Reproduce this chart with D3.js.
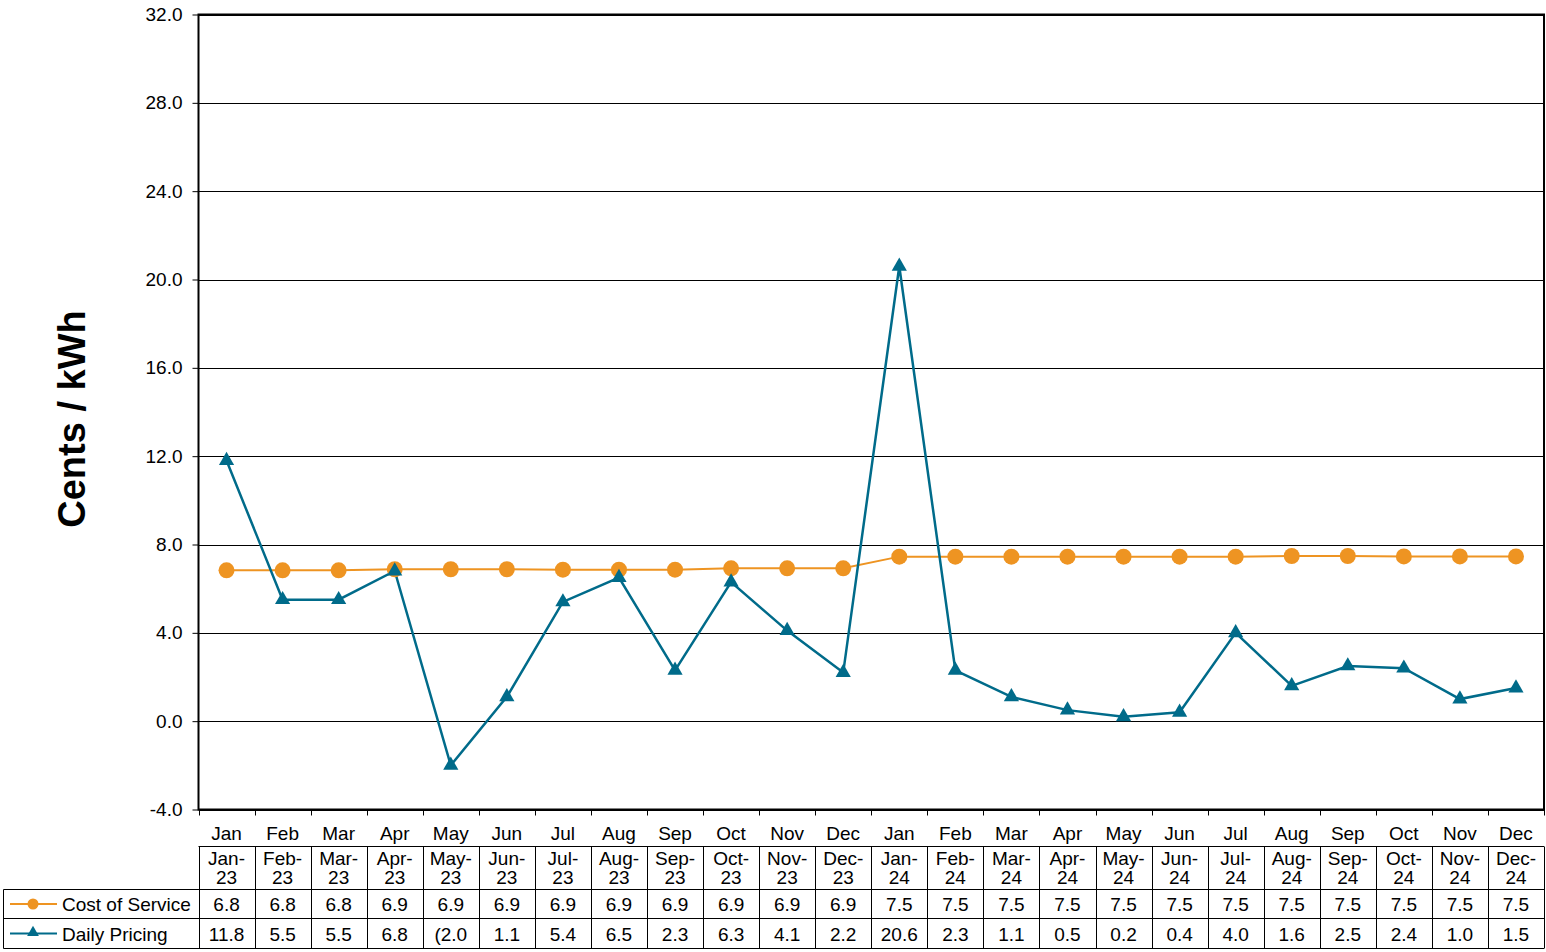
<!DOCTYPE html>
<html>
<head>
<meta charset="utf-8">
<script src="https://cdn.jsdelivr.net/npm/d3@7/dist/d3.min.js"></script>
<style>
  html, body { margin: 0; padding: 0; background: #fff; }
  svg { display: block; font-family: "Liberation Sans", Arial, sans-serif; }
</style>
</head>
<body>
<svg id="chart" width="1546" height="952"></svg>
<script>
// ---- Data ----
const monthLabels = ["Jan","Feb","Mar","Apr","May","Jun","Jul","Aug","Sep","Oct","Nov","Dec",
                     "Jan","Feb","Mar","Apr","May","Jun","Jul","Aug","Sep","Oct","Nov","Dec"];
const periodLabels = ["Jan-23","Feb-23","Mar-23","Apr-23","May-23","Jun-23","Jul-23","Aug-23","Sep-23","Oct-23","Nov-23","Dec-23",
                      "Jan-24","Feb-24","Mar-24","Apr-24","May-24","Jun-24","Jul-24","Aug-24","Sep-24","Oct-24","Nov-24","Dec-24"];
const costOfService = [6.83,6.83,6.83,6.88,6.88,6.88,6.86,6.86,6.86,6.92,6.92,6.92,
                       7.45,7.45,7.45,7.45,7.45,7.45,7.45,7.48,7.48,7.46,7.46,7.46];
const dailyPricing = [11.8,5.5,5.5,6.8,-2.0,1.1,5.4,6.5,2.3,6.3,4.1,2.2,
                      20.6,2.3,1.1,0.5,0.2,0.4,4.0,1.6,2.5,2.4,1.0,1.5];
const yTicks = [-4,0,4,8,12,16,20,24,28,32];
const seriesNames = ["Cost of Service","Daily Pricing"];
const seriesColors = ["#EE9422","#006B8A"];

// ---- Layout ----
const svg = d3.select("#chart");
const L = 198.5, R = 1544, T = 14.5, B = 809.5;
const x = d3.scaleBand().domain(d3.range(periodLabels.length)).range([L, R]).padding(0);
const y = d3.scaleLinear().domain([-4, 32]).range([B, T]);
const cx = i => x(i) + x.bandwidth() / 2;
const font = "'Liberation Sans', Arial, sans-serif";

// gridlines
svg.append("g").selectAll("line").data(yTicks).join("line")
  .attr("x1", L).attr("x2", R)
  .attr("y1", d => Math.round(y(d)) + 0.5).attr("y2", d => Math.round(y(d)) + 0.5)
  .attr("stroke", "#000").attr("stroke-width", 1);

// y axis
const yAxis = d3.axisLeft(y).tickValues(yTicks)
  .tickFormat(d => d.toFixed(1)).tickSize(6).tickPadding(10);
const gy = svg.append("g").attr("transform", `translate(${L},0)`).call(yAxis);
gy.select(".domain").remove();
gy.selectAll(".tick line").attr("stroke", "#000");
gy.selectAll(".tick text").attr("font-size", 19).attr("fill", "#000").attr("font-family", font);

// x axis ticks at category boundaries
const bounds = d3.range(periodLabels.length + 1).map(i => L + i * x.bandwidth());
svg.append("g").selectAll("line").data(bounds).join("line")
  .attr("x1", d => Math.round(d) + 0.5).attr("x2", d => Math.round(d) + 0.5)
  .attr("y1", B).attr("y2", B + 6).attr("stroke", "#000").attr("stroke-width", 1);

// plot frame
svg.append("rect").attr("x", L).attr("y", T).attr("width", R - L).attr("height", B - T)
  .attr("fill", "none").attr("stroke", "#000").attr("stroke-width", 2);

// axis title
svg.append("text")
  .attr("transform", `translate(85,419) rotate(-90)`)
  .attr("text-anchor", "middle")
  .attr("font-size", 38).attr("font-weight", "bold").attr("fill", "#000")
  .text("Cents / kWh");

// lines
const line = d3.line().x((d, i) => cx(i)).y(d => y(d));
svg.append("path").datum(costOfService).attr("d", line)
  .attr("fill", "none").attr("stroke", seriesColors[0]).attr("stroke-width", 2);
svg.append("path").datum(dailyPricing).attr("d", line)
  .attr("fill", "none").attr("stroke", seriesColors[1]).attr("stroke-width", 2.5);

// markers
svg.append("g").selectAll("circle").data(costOfService).join("circle")
  .attr("cx", (d, i) => cx(i)).attr("cy", d => y(d)).attr("r", 8)
  .attr("fill", seriesColors[0]);
const tri = d3.symbol().type(d3.symbolTriangle).size(100);
svg.append("g").selectAll("path").data(dailyPricing).join("path")
  .attr("transform", (d, i) => `translate(${cx(i)},${y(d)})`)
  .attr("d", tri).attr("fill", seriesColors[1]);

// ---- Data table ----
const fontSize = 19;
const tbl = svg.append("g").attr("font-size", fontSize).attr("fill", "#000");
// month row
tbl.append("g").selectAll("text").data(monthLabels).join("text")
  .attr("x", (d, i) => cx(i)).attr("y", 840).attr("text-anchor", "middle").text(d => d);
// period row (two lines)
const pr = tbl.append("g").selectAll("text").data(periodLabels).join("text")
  .attr("text-anchor", "middle");
pr.append("tspan").attr("x", (d, i) => cx(i)).attr("y", 865).text(d => d.split("-")[0] + "-");
pr.append("tspan").attr("x", (d, i) => cx(i)).attr("y", 884).text(d => d.split("-")[1]);

const rowTop = [846.5, 889.5, 918.5, 948.5];
const fmt = v => v < 0 ? "(" + Math.abs(v).toFixed(1) : v.toFixed(1);
[costOfService, dailyPricing].forEach((arr, r) => {
  const ly = (rowTop[r + 1] + rowTop[r + 2]) / 2;
  tbl.append("g").selectAll("text").data(arr).join("text")
    .attr("x", (d, i) => cx(i)).attr("y", ly + 7)
    .attr("text-anchor", "middle").text(fmt);
  // legend
  tbl.append("line").attr("x1", 10).attr("x2", 57).attr("y1", ly).attr("y2", ly)
    .attr("stroke", seriesColors[r]).attr("stroke-width", 2);
  if (r === 0) {
    tbl.append("circle").attr("cx", 33).attr("cy", ly).attr("r", 5.5).attr("fill", seriesColors[r]);
  } else {
    tbl.append("path").attr("transform", `translate(33,${ly - 1})`)
      .attr("d", d3.symbol().type(d3.symbolTriangle).size(60)).attr("fill", seriesColors[r]);
  }
  tbl.append("text").attr("x", 62).attr("y", ly + 7).text(seriesNames[r]);
});

// table borders
const gl = svg.append("g").attr("stroke", "#000").attr("stroke-width", 1);
gl.append("line").attr("x1", L).attr("x2", R).attr("y1", rowTop[0]).attr("y2", rowTop[0]);
[1, 2, 3].forEach(k => gl.append("line").attr("x1", 3.5).attr("x2", R)
  .attr("y1", rowTop[k]).attr("y2", rowTop[k]));
gl.append("line").attr("x1", 3.5).attr("x2", 3.5).attr("y1", rowTop[1]).attr("y2", rowTop[3]);
gl.selectAll(".vb").data(bounds).join("line").attr("class", "vb")
  .attr("x1", d => Math.round(d) + 0.5).attr("x2", d => Math.round(d) + 0.5)
  .attr("y1", rowTop[0]).attr("y2", rowTop[3]);
</script>
</body>
</html>
